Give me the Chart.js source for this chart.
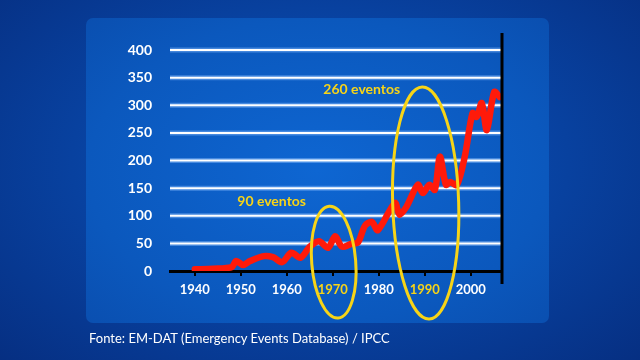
<html lang="pt">
  <head>
    <meta charset="utf-8" />
    <title>Desastres naturais 1940-2006</title>
    <script src="https://cdn.jsdelivr.net/npm/chart.js@4.4.1/dist/chart.umd.min.js"></script>
    <style>
      html,
      body {
        margin: 0;
        padding: 0;
        width: 640px;
        height: 360px;
        overflow: hidden;
        background: radial-gradient(ellipse at 50% 45%, #0b56c0 0%, #08419f 55%, #062f82 100%);
        font-family: "Lato", sans-serif;
      }

      #panel {
        position: absolute;
        left: 86px;
        top: 18px;
        width: 463px;
        height: 305px;
        border-radius: 7px;
        background: radial-gradient(ellipse at 50% 50%, #0e66d2 0%, #0b58bd 70%, #0a4fb0 100%);
      }

      #chartDiv {
        position: absolute;
        left: 0;
        top: 0;
        width: 640px;
        height: 360px;
      }

      #source {
        position: absolute;
        left: 89px;
        top: 330px;
        color: #fff;
        font-size: 13px;
      }
    </style>
  </head>

  <body>
    <div id="panel"></div>
    <div id="chartDiv"><canvas id="events-chart" width="640" height="360"></canvas></div>
    <div id="source">Fonte: EM-DAT (Emergency Events Database) / IPCC</div>

    <script>
      // values (year, number of events)
      const years = [1940, 1944, 1948, 1949, 1950.5, 1952, 1955, 1957, 1959, 1961, 1963, 1965, 1967, 1969,
        1970.5, 1972, 1974, 1975.5, 1977, 1978.5, 1979.8, 1983.5, 1984.5, 1986, 1988.5, 1989.6, 1991,
        1992.2, 1993.3, 1994.6, 1995.5, 1997, 1998.7, 2000.4, 2001.3, 2002.4, 2003.5, 2005.1, 2006.3];
      const events = [3, 4, 7, 18, 11, 18, 27, 25, 16, 33, 24, 44, 54, 42,
        63, 44, 49, 52, 82, 89, 74, 123, 102, 116, 156, 141, 156,
        147, 207, 156, 161, 156, 207, 286, 279, 304, 255, 324, 315];
      const yearTicks = [1940, 1950, 1960, 1970, 1980, 1990, 2000];
      const highlightYears = [1970, 1990];

      // hand-drawn looking circles and their labels
      const circles = [
        { year: 1970.2, value: 16, rx: 22, ry: 56, tilt: -0.08 },
        { year: 1990.2, value: 123, rx: 33, ry: 116, tilt: -0.03 }
      ];
      const notes = [
        { text: "90 eventos", year: 1956.7, value: 126 },
        { text: "260 eventos", year: 1976.3, value: 328 }
      ];

      const yellow = "#f7d417";

      const overlay = {
        id: "overlay",
        beforeDatasetsDraw(chart) {
          // soft light-blue halo under the white grid lines
          const ctx = chart.ctx;
          const y = chart.scales.y;
          const area = chart.chartArea;
          ctx.save();
          ctx.strokeStyle = "rgba(140,190,255,0.45)";
          ctx.lineWidth = 5;
          y.ticks.forEach((t) => {
            if (t.value === 0) return;
            const py = y.getPixelForValue(t.value);
            ctx.beginPath();
            ctx.moveTo(area.left, py);
            ctx.lineTo(area.right, py);
            ctx.stroke();
          });
          ctx.strokeStyle = "#fff";
          ctx.lineWidth = 2;
          y.ticks.forEach((t) => {
            if (t.value === 0) return;
            const py = y.getPixelForValue(t.value);
            ctx.beginPath();
            ctx.moveTo(area.left, py);
            ctx.lineTo(area.right, py);
            ctx.stroke();
          });
          ctx.restore();
        },
        afterDatasetsDraw(chart) {
          const ctx = chart.ctx;
          const x = chart.scales.x;
          const y = chart.scales.y;
          const area = chart.chartArea;
          ctx.save();

          // black right edge
          ctx.strokeStyle = "#000";
          ctx.lineWidth = 3;
          ctx.beginPath();
          ctx.moveTo(area.right, area.top - 17);
          ctx.lineTo(area.right, area.bottom + 13);
          ctx.stroke();

          ctx.strokeStyle = yellow;
          ctx.lineWidth = 3;
          circles.forEach((c) => {
            ctx.beginPath();
            ctx.ellipse(x.getPixelForValue(c.year), y.getPixelForValue(c.value), c.rx, c.ry, c.tilt, 0, Math.PI * 2);
            ctx.stroke();
          });

          ctx.fillStyle = yellow;
          ctx.font = "bold 14px Lato";
          ctx.textAlign = "center";
          ctx.textBaseline = "middle";
          notes.forEach((n) => {
            ctx.fillText(n.text, x.getPixelForValue(n.year), y.getPixelForValue(n.value));
          });
          ctx.restore();
        }
      };

      const ctx = document.getElementById("events-chart").getContext("2d");
      new Chart(ctx, {
        type: "line",
        data: {
          datasets: [
            {
              data: years.map((yr, i) => ({ x: yr, y: events[i] })),
              borderColor: "#ff1a0a",
              borderWidth: 6.5,
              pointRadius: 0,
              tension: 0.3,
              borderCapStyle: "round",
              borderJoinStyle: "round"
            }
          ]
        },
        options: {
          responsive: false,
          animation: false,
          layout: { padding: { top: 50, right: 138, bottom: 0, left: 0 } },
          plugins: {
            legend: { display: false },
            tooltip: { enabled: false }
          },
          scales: {
            x: {
              type: "linear",
              min: 1934.6,
              max: 2006.8,
              afterBuildTicks: (scale) => {
                scale.ticks = yearTicks.map((v) => ({ value: v }));
              },
              afterFit: (scale) => {
                scale.height = 89;
              },
              border: { color: "#000", width: 3 },
              grid: { drawOnChartArea: false, drawTicks: true, tickLength: 5, color: "#000", lineWidth: 2 },
              ticks: {
                color: (c) => (highlightYears.includes(c.tick.value) ? yellow : "#fff"),
                font: { family: "Lato", size: 13, weight: "bold" },
                padding: 6,
                maxRotation: 0,
                callback: (v) => String(v)
              }
            },
            y: {
              min: 0,
              max: 400,
              afterFit: (scale) => {
                scale.width = 170;
              },
              border: { display: false },
              grid: { display: false },
              ticks: {
                stepSize: 50,
                color: "#fff",
                font: { family: "Lato", size: 14, weight: "bold" },
                padding: 10
              }
            }
          }
        },
        plugins: [overlay]
      });
    </script>
  </body>
</html>
